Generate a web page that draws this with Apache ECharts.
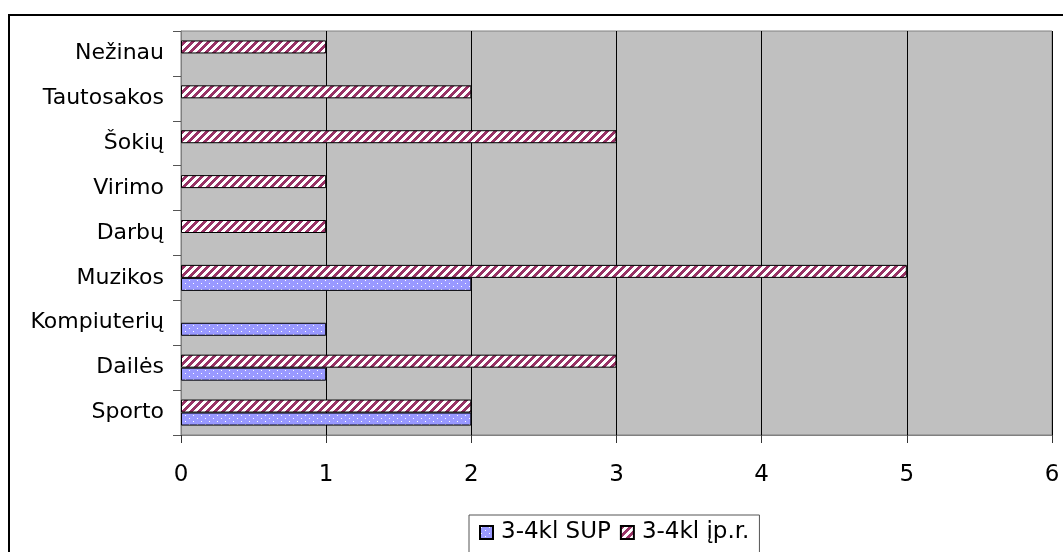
<!DOCTYPE html>
<html>
<head>
<meta charset="utf-8">
<script src="https://cdn.jsdelivr.net/npm/echarts@6/dist/echarts.min.js"></script>
<style>
html,body{margin:0;padding:0;background:#fff;}
#chart{width:1063px;height:552px;}
</style>
</head>
<body>
<div id="chart"></div>
<script>
const categories = ['Sporto','Dailės','Kompiuterių','Muzikos','Darbų','Virimo','Šokių','Tautosakos','Nežinau'];
const seriesNames = ['3-4kl SUP','3-4kl įp.r.'];
const supValues = [2,1,1,2,0,0,0,0,0];
const iprValues = [2,3,0,5,1,1,3,2,1];
const xTicks = [0,1,2,3,4,5,6];

function stripeCanvas(){
  const c = document.createElement('canvas');
  c.width = 8; c.height = 8;
  const ctx = c.getContext('2d');
  const img = ctx.createImageData(8,8);
  for(let y=0;y<8;y++)for(let x=0;x<8;x++){
    const i=(y*8+x)*4;
    const m = ((x+y)%8) < 4;
    img.data[i]= m?0x99:255; img.data[i+1]= m?0x33:255; img.data[i+2]= m?0x66:255; img.data[i+3]=255;
  }
  ctx.putImageData(img,0,0);
  return c;
}
function dotCanvas(){
  const c = document.createElement('canvas');
  c.width = 8; c.height = 6;
  const ctx = c.getContext('2d');
  ctx.fillStyle = '#9999FF';
  ctx.fillRect(0,0,8,6);
  ctx.fillStyle = '#ffffff';
  ctx.fillRect(1,1,1,1);
  ctx.fillRect(5,4,1,1);
  return c;
}
const toBar = v => v === 0 ? '-' : v;

const chart = echarts.init(document.getElementById('chart'), null, {renderer:'canvas'});
const font = 'DejaVu Sans, Arial, sans-serif';
chart.setOption({
  animation:false,
  textStyle:{fontFamily:font},
  graphic:[{type:'rect',shape:{x:9,y:15,width:1100,height:600},style:{fill:'none',stroke:'#000',lineWidth:2},silent:true}],
  grid:{left:181,top:31,right:11,bottom:117,show:true,backgroundColor:'#C0C0C0',borderColor:'#808080',borderWidth:1},
  legend:{
    data:seriesNames, left:469, top:515, orient:'horizontal', icon:'rect',
    itemWidth:13,itemHeight:13,itemGap:9,
    borderColor:'#555',borderWidth:1,padding:[6,10,30,10],
    textStyle:{fontSize:23,color:'#000',fontFamily:font,padding:[0,0,0,3]},
    backgroundColor:'#fff'
  },
  xAxis:{
    type:'value',min:xTicks[0],max:xTicks[xTicks.length-1],interval:1,
    axisLine:{show:true,lineStyle:{color:'#808080'}},
    axisTick:{show:true,length:8,lineStyle:{color:'#333'}},
    axisLabel:{fontSize:23,color:'#000',margin:29,fontFamily:font},
    splitLine:{show:true,lineStyle:{color:'#000',width:1}}
  },
  yAxis:{
    type:'category',data:categories,
    axisLine:{show:true,lineStyle:{color:'#808080'}},
    axisTick:{show:true,length:8,alignWithLabel:false,lineStyle:{color:'#555'}},
    axisLabel:{fontSize:22,color:'#000',margin:17,fontFamily:font},
    splitLine:{show:false}
  },
  series:[
    {name:seriesNames[1],type:'bar',data:iprValues.map(toBar),barWidth:13,barGap:'0%',
     itemStyle:{color:{image:stripeCanvas(),repeat:'repeat'},borderColor:'#000',borderWidth:1}},
    {name:seriesNames[0],type:'bar',data:supValues.map(toBar),barWidth:13,barGap:'0%',
     itemStyle:{color:{image:dotCanvas(),repeat:'repeat'},borderColor:'#000',borderWidth:1}}
  ]
});
</script>
</body>
</html>
